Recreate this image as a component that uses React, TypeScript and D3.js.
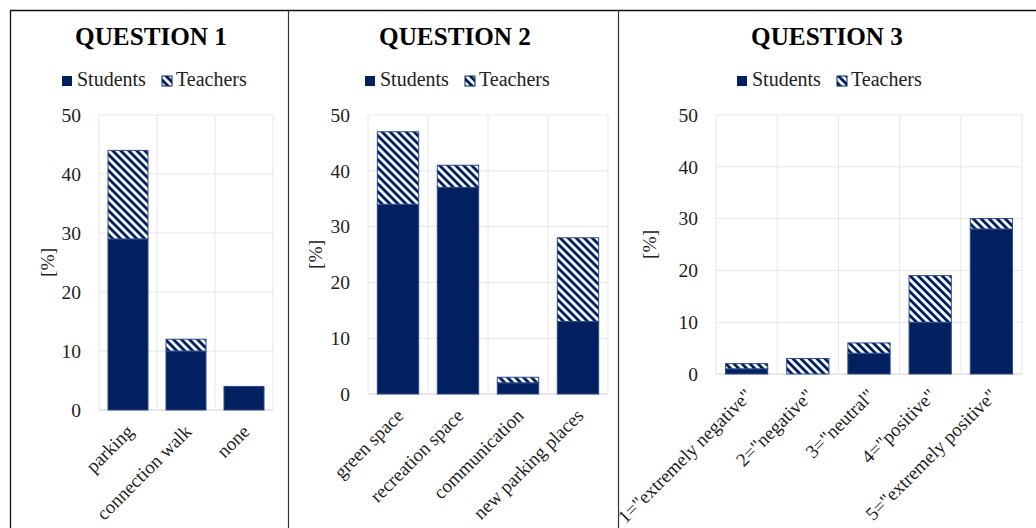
import React from "react";
import * as d3 from "d3";

// ---- data ----
const q1Categories = ["parking", "connection walk", "none"];
const q1Students = [29, 10, 4];
const q1Teachers = [15, 2, 0];

const q2Categories = ["green space", "recreation space", "communication", "new parking places"];
const q2Students = [34, 37, 2, 13];
const q2Teachers = [13, 4, 1, 15];

const q3Categories = [
  '1="extremely negative"',
  '2="negative"',
  '3="neutral"',
  '4="positive"',
  '5="extremely positive"',
];
const q3Students = [1, 0, 4, 10, 28];
const q3Teachers = [1, 3, 2, 9, 2];

const yTicks = [0, 10, 20, 30, 40, 50];
const seriesNames = ["Students", "Teachers"];
const titles = ["QUESTION 1", "QUESTION 2", "QUESTION 3"];

// ---- layout / style ----
const W = 1036;
const H = 528;
const NAVY = "#002060";
const FONT = "'Liberation Serif', 'Times New Roman', serif";

const layouts = [
  { left: 99, right: 273, y0: 410, yTop: 115, titleX: 151, legendX: 62, yLabelX: 47 },
  { left: 368, right: 608, y0: 394, yTop: 115, titleX: 455, legendX: 365, yLabelX: 315 },
  { left: 716, right: 1022, y0: 374, yTop: 115, titleX: 827, legendX: 737, yLabelX: 649 },
];

const panels = [
  { cats: q1Categories, s: q1Students, t: q1Teachers },
  { cats: q2Categories, s: q2Students, t: q2Teachers },
  { cats: q3Categories, s: q3Students, t: q3Teachers },
];

function Panel({ idx }: { idx: number }) {
  const L = layouts[idx];
  const P = panels[idx];
  const rows = P.cats.map((c, i) => ({ cat: c, Students: P.s[i], Teachers: P.t[i] }));
  const stacked = d3.stack<any>().keys(seriesNames)(rows);

  const x = d3
    .scaleBand<string>()
    .domain(P.cats)
    .range([L.left, L.right])
    .paddingInner(0.31)
    .paddingOuter(0.155);
  const y = d3.scaleLinear().domain([0, 50]).range([L.y0, L.yTop]);
  const boundaries = d3.range(P.cats.length + 1).map((i) => L.left + i * ((L.right - L.left) / P.cats.length));

  return (
    <g>
      {/* title */}
      <text x={L.titleX} y={45} textAnchor="middle" fontFamily={FONT} fontWeight="bold" fontSize={25.2} fill="#000">
        {titles[idx]}
      </text>
      {/* legend */}
      <g>
        <rect x={L.legendX} y={76} width={10} height={10} fill={NAVY} />
        <text x={L.legendX + 15} y={86} fontFamily={FONT} fontSize={20} fill="#222">
          {seriesNames[0]}
        </text>
        <rect x={L.legendX + 100} y={76} width={10} height={10} fill="url(#hatch)" stroke={NAVY} strokeWidth={1} />
        <text x={L.legendX + 114} y={86} fontFamily={FONT} fontSize={20} fill="#222">
          {seriesNames[1]}
        </text>
      </g>
      {/* gridlines */}
      {yTicks.map((t) => (
        <line key={"h" + t} x1={L.left} x2={L.right} y1={y(t)} y2={y(t)} stroke={t === 0 ? "#d0d0d0" : "#e6e6e6"} strokeWidth={1} />
      ))}
      {boundaries.map((bx, i) => (
        <line key={"v" + i} x1={bx} x2={bx} y1={y(50)} y2={y(0)} stroke="#e6e6e6" strokeWidth={1} />
      ))}
      {/* y ticks */}
      {yTicks.map((t) => (
        <text key={"t" + t} x={L.left - 18} y={y(t)} dy="0.35em" textAnchor="end" fontFamily={FONT} fontSize={19.5} fill="#222">
          {t}
        </text>
      ))}
      {/* y label */}
      <text
        transform={`translate(${L.yLabelX},${(L.y0 + L.yTop) / 2}) rotate(-90)`}
        textAnchor="middle"
        dy="0.35em"
        fontFamily={FONT}
        fontSize={19.5}
        fill="#222"
      >
        [%]
      </text>
      {/* bars */}
      {stacked.map((layer, si) =>
        layer.map((d, i) => {
          const h = y(d[0]) - y(d[1]);
          if (h <= 0) return null;
          return (
            <rect
              key={si + "-" + i}
              x={x(P.cats[i])}
              y={y(d[1])}
              width={x.bandwidth()}
              height={h}
              fill={si === 0 ? NAVY : "url(#hatch)"}
              stroke="#2f4b88"
              strokeWidth={1}
            />
          );
        })
      )}
      {/* category labels */}
      {P.cats.map((c) => {
        const cx = (x(c) as number) + x.bandwidth() / 2;
        return (
          <text
            key={c}
            transform={`translate(${cx + 2},${L.y0 + 18}) rotate(-45)`}
            textAnchor="end"
            dy="0.35em"
            fontFamily={FONT}
            fontSize={19}
            fill="#222"
          >
            {c}
          </text>
        );
      })}
    </g>
  );
}

export default function App() {
  return (
    <svg width={W} height={H} style={{ position: "absolute", left: 0, top: 0, background: "#fff" }}>
      <defs>
        <pattern id="hatch" patternUnits="userSpaceOnUse" width={5.66} height={5.66} patternTransform="rotate(-45)">
          <rect x={0} y={0} width={5.66} height={5.66} fill="#fff" />
          <rect x={0} y={0} width={2.9} height={5.66} fill={NAVY} />
        </pattern>
      </defs>
      <rect x={0} y={0} width={W} height={H} fill="#fff" />
      {/* panel borders */}
      <line x1={10} x2={W} y1={10.5} y2={10.5} stroke="#111" strokeWidth={1.3} />
      <line x1={10.5} x2={10.5} y1={10} y2={H} stroke="#111" strokeWidth={1.3} />
      <line x1={288.5} x2={288.5} y1={10} y2={H} stroke="#333" strokeWidth={1.2} />
      <line x1={618.5} x2={618.5} y1={10} y2={H} stroke="#333" strokeWidth={1.2} />
      {[0, 1, 2].map((i) => (
        <Panel key={i} idx={i} />
      ))}
    </svg>
  );
}
